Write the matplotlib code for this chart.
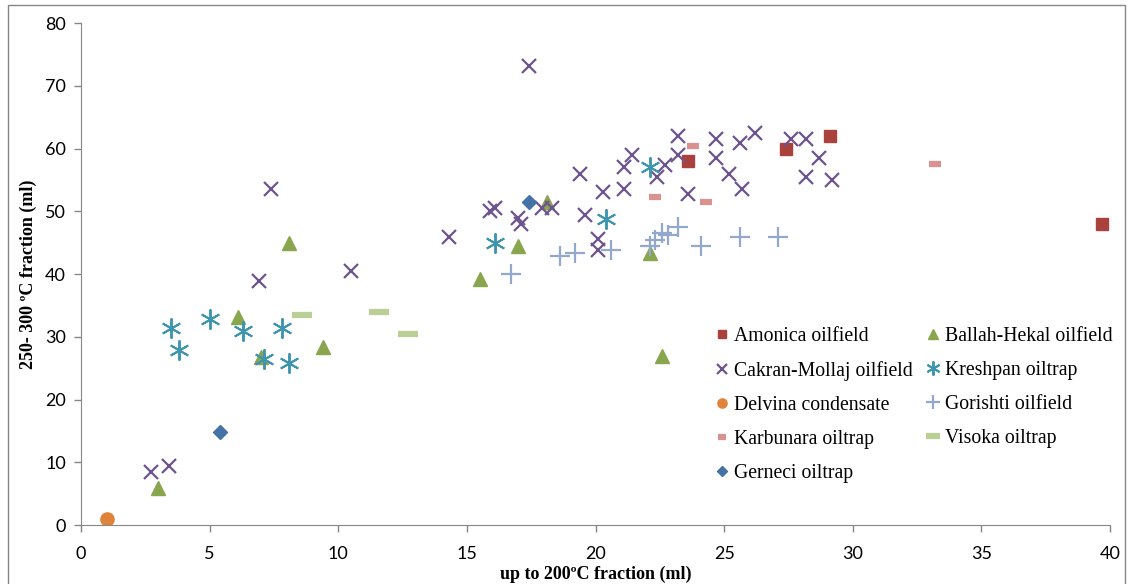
import matplotlib.pyplot as plt
from matplotlib.patches import Rectangle

# data
amonica_x = [23.6, 27.4, 29.1, 39.7]
amonica_y = [58.0, 60.0, 62.0, 48.0]

ballah_x = [3.0, 6.1, 7.0, 8.1, 9.4, 15.5, 17.0, 18.1, 22.1, 22.6]
ballah_y = [5.9, 33.2, 26.8, 45.0, 28.3, 39.2, 44.5, 51.5, 43.3, 26.9]

cakran_x = [2.7, 3.4, 6.9, 7.4, 10.5, 14.3, 15.9, 16.1, 17.0, 17.1, 17.4, 17.9, 18.3,
            19.4, 19.6, 20.3, 20.1, 20.1, 21.1, 21.4, 21.1, 22.4, 22.7, 23.2, 23.2,
            23.6, 24.7, 24.7, 25.2, 25.6, 25.7, 26.2, 27.6, 28.2, 28.7, 28.2, 29.2]
cakran_y = [8.4, 9.4, 38.9, 53.5, 40.5, 45.9, 50.1, 50.5, 48.9, 47.9, 73.1, 50.5, 50.5,
            55.9, 49.4, 53.0, 45.5, 43.8, 57.0, 59.0, 53.5, 55.5, 57.4, 62.0, 59.0,
            52.7, 61.5, 58.5, 56.0, 60.9, 53.5, 62.5, 61.5, 61.5, 58.5, 55.5, 55.0]

kreshpan_x = [3.5, 3.8, 5.0, 6.3, 7.8, 7.1, 8.1, 16.1, 20.4, 22.1]
kreshpan_y = [31.4, 27.9, 32.9, 30.9, 31.4, 26.4, 25.8, 45.0, 48.7, 57.0]

delvina_x = [1.0]
delvina_y = [1.0]

gorishti_x = [16.7, 18.6, 19.2, 20.6, 22.1, 22.3, 22.6, 22.8, 23.2, 24.1, 25.6, 27.1]
gorishti_y = [40.0, 42.9, 43.3, 43.8, 44.5, 45.4, 46.5, 46.2, 47.5, 44.5, 45.9, 45.9]

karbunara_x = [23.8, 22.3, 24.3, 33.2]
karbunara_y = [60.4, 52.2, 51.5, 57.5]

visoka_x = [8.6, 11.6, 12.7]
visoka_y = [33.5, 33.9, 30.4]

gerneci_x = [5.4, 17.4]
gerneci_y = [14.8, 51.5]

fig = plt.figure(figsize=(11.32, 5.84), dpi=100)
ax = fig.add_axes([0.0716, 0.101, 0.9090, 0.8596])

ax.plot(amonica_x, amonica_y, ls='none', marker='s', ms=8.5, color='#A9413D', label='Amonica oilfield')
ax.plot(ballah_x, ballah_y, ls='none', marker='^', ms=10, color='#89A54E', label='Ballah-Hekal oilfield')
ax.plot(cakran_x, cakran_y, ls='none', marker='x', ms=9.5, mew=1.6, color='#6E548D', label='Cakran-Mollaj oilfield')
ax.plot(kreshpan_x, kreshpan_y, ls='none', marker=(6, 2, 0), ms=14.5, mew=1.4, color='#3D96AE', label='Kreshpan oiltrap')
ax.plot(delvina_x, delvina_y, ls='none', marker='o', ms=9.5, color='#E0833A', label='Delvina condensate')
ax.plot(gorishti_x, gorishti_y, ls='none', marker='+', ms=14, mew=1.6, color='#92A8CD', label='Gorishti oilfield')
ax.plot(karbunara_x, karbunara_y, ls='none', marker='_', ms=9, mew=4.5, color='#D9928F', label='Karbunara oiltrap')
ax.plot(visoka_x, visoka_y, ls='none', marker='_', ms=14, mew=4.5, color='#B9CF96', label='Visoka oiltrap')
ax.plot(gerneci_x, gerneci_y, ls='none', marker='D', ms=7.5, color='#4572A7', label='Gerneci oiltrap')

ax.set_xlim(0, 40)
ax.set_ylim(0, 80)
ax.set_xticks(range(0, 45, 5))
ax.set_yticks(range(0, 90, 10))

for s in ['top', 'right']:
    ax.spines[s].set_visible(False)
for s in ['left', 'bottom']:
    ax.spines[s].set_color('#868686')
ax.tick_params(colors='#868686', length=5, width=1, labelcolor='black', labelsize=13, pad=6)
for lab in ax.get_xticklabels() + ax.get_yticklabels():
    lab.set_fontfamily('Lato')
ax.tick_params(axis='x', pad=10)

ax.set_xlabel('up to 200ºC fraction (ml)', family='Liberation Serif', weight='bold', fontsize=13, labelpad=3)
ax.set_ylabel('250- 300 ºC fraction (ml)', family='Liberation Serif', weight='bold', fontsize=13, labelpad=6)

# legend fills row by row in the reference
h, l = ax.get_legend_handles_labels()
order = [0, 2, 4, 6, 8, 1, 3, 5, 7]
leg = ax.legend([h[i] for i in order], [l[i] for i in order], ncol=2, loc='upper left',
                bbox_to_anchor=(0.600, 0.430), frameon=False,
                prop={'family': 'Liberation Serif', 'size': 14.2}, markerscale=0.7,
                handlelength=0.6, handletextpad=0.3, columnspacing=0.75, labelspacing=0.76)

fig.patches.append(Rectangle((8 / 1132, -0.02), 1117 / 1132, 1.0 - 5 / 584 + 0.02,
                             transform=fig.transFigure, fill=False, edgecolor='#868686', lw=1))

fig.savefig('out.png', dpi=100)
